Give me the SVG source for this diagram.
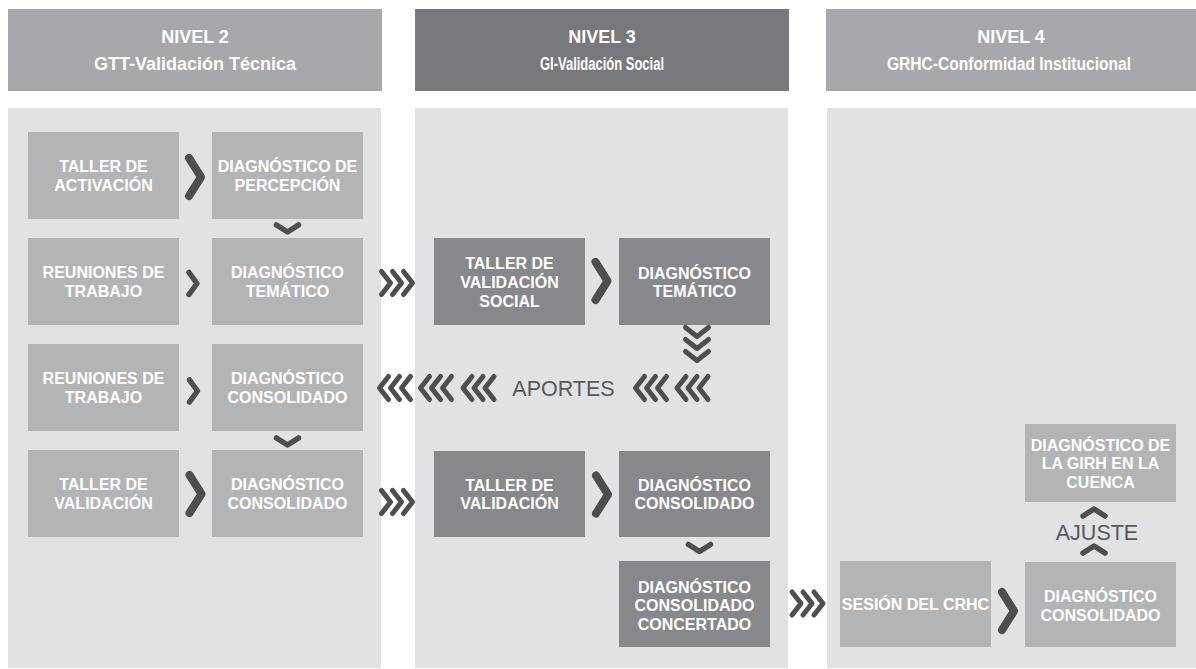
<svg xmlns="http://www.w3.org/2000/svg" xmlns:xlink="http://www.w3.org/1999/xlink" width="1196" height="669" viewBox="0 0 1196 669">
<style>
.hdr{fill:#a7a8ab}
.hdr2{fill:#77787b}
.panel{fill:#e1e2e3}
.bl{fill:#b3b4b6}
.bd{fill:#87888b}
.ht{font-family:"Liberation Sans",Arial,sans-serif;font-weight:bold;font-size:18px;fill:#ffffff;text-anchor:middle}
.bt{font-family:"Liberation Sans",Arial,sans-serif;font-weight:bold;font-size:16px;fill:#ffffff;text-anchor:middle}
.lt{font-family:"Liberation Sans",Arial,sans-serif;font-size:21.5px;fill:#58595b;text-anchor:middle}
.ch{fill:none;stroke:#4d4e50;stroke-linecap:round;stroke-linejoin:round}
</style>
<defs>
<path id="bigR" class="ch" stroke-width="8" d="M-6,-19 L6,0 L-6,19"/>
<path id="smR" class="ch" stroke-width="5.5" d="M-4,-11 L4,0 L-4,11"/>
<path id="dn" class="ch" stroke-width="5.5" d="M-11,-3.5 L0,3.5 L11,-3.5"/>
<path id="up" class="ch" stroke-width="5.5" d="M-11,3.5 L0,-3.5 L11,3.5"/>
<g id="tripR" class="ch" stroke-width="5">
<path d="M-15.5,-11.5 L-6.5,0 L-15.5,11.5"/>
<path d="M-4.5,-11.5 L4.5,0 L-4.5,11.5"/>
<path d="M6.5,-11.5 L15.5,0 L6.5,11.5"/>
</g>
<g id="tripL" class="ch" stroke-width="5">
<path d="M15.5,-11.5 L6.5,0 L15.5,11.5"/>
<path d="M4.5,-11.5 L-4.5,0 L4.5,11.5"/>
<path d="M-6.5,-11.5 L-15.5,0 L-6.5,11.5"/>
</g>
<g id="tripD" class="ch" stroke-width="5">
<path d="M-11.5,-16.5 L0,-7.5 L11.5,-16.5"/>
<path d="M-11.5,-4.5 L0,4.5 L11.5,-4.5"/>
<path d="M-11.5,7.5 L0,16.5 L11.5,7.5"/>
</g>
</defs>

<g id="level2">
<rect class="hdr" x="8" y="9" width="374" height="82"/>
<text class="ht" x="195" y="43">NIVEL 2</text>
<text class="ht" x="195" y="69.5">GTT-Validación Técnica</text>
<rect class="panel" x="8" y="108" width="373" height="560"/>
</g>
<g id="level3">
<rect class="hdr2" x="415" y="9" width="374" height="82"/>
<text class="ht" x="602" y="43">NIVEL 3</text>
<text class="ht" x="602" y="69.5" textLength="124" lengthAdjust="spacingAndGlyphs">GI-Validación Social</text>
<rect class="panel" x="415" y="108" width="373" height="560"/>
</g>
<g id="level4">
<rect class="hdr" x="826" y="9" width="374" height="82"/>
<text class="ht" x="1011" y="43">NIVEL 4</text>
<text class="ht" x="1009" y="69.5" textLength="244" lengthAdjust="spacingAndGlyphs">GRHC-Conformidad Institucional</text>
<rect class="panel" x="827" y="108" width="373" height="560"/>
</g>

<g id="n1"><rect class="bl" x="28" y="132" width="151" height="87"/>
<text class="bt" x="103.5" y="172">TALLER DE</text><text class="bt" x="103.5" y="190.5">ACTIVACIÓN</text></g>
<g id="n2"><rect class="bl" x="212" y="132" width="151" height="87"/>
<text class="bt" x="287.5" y="172">DIAGNÓSTICO DE</text><text class="bt" x="287.5" y="190.5">PERCEPCIÓN</text></g>
<g id="n3"><rect class="bl" x="28" y="238" width="151" height="87"/>
<text class="bt" x="103.5" y="278">REUNIONES DE</text><text class="bt" x="103.5" y="296.5">TRABAJO</text></g>
<g id="n4"><rect class="bl" x="212" y="238" width="151" height="87"/>
<text class="bt" x="287.5" y="278">DIAGNÓSTICO</text><text class="bt" x="287.5" y="296.5">TEMÁTICO</text></g>
<g id="n5"><rect class="bl" x="28" y="344" width="151" height="87"/>
<text class="bt" x="103.5" y="384">REUNIONES DE</text><text class="bt" x="103.5" y="402.5">TRABAJO</text></g>
<g id="n6"><rect class="bl" x="212" y="344" width="151" height="87"/>
<text class="bt" x="287.5" y="384">DIAGNÓSTICO</text><text class="bt" x="287.5" y="402.5">CONSOLIDADO</text></g>
<g id="n7"><rect class="bl" x="28" y="450" width="151" height="87"/>
<text class="bt" x="103.5" y="490">TALLER DE</text><text class="bt" x="103.5" y="508.5">VALIDACIÓN</text></g>
<g id="n8"><rect class="bl" x="212" y="450" width="151" height="87"/>
<text class="bt" x="287.5" y="490">DIAGNÓSTICO</text><text class="bt" x="287.5" y="508.5">CONSOLIDADO</text></g>

<g id="n9"><rect class="bd" x="434" y="238" width="151" height="87"/>
<text class="bt" x="509.5" y="268.5">TALLER DE</text><text class="bt" x="509.5" y="287.5">VALIDACIÓN</text><text class="bt" x="509.5" y="306.5">SOCIAL</text></g>
<g id="n10"><rect class="bd" x="619" y="238" width="151" height="87"/>
<text class="bt" x="694.5" y="278.5">DIAGNÓSTICO</text><text class="bt" x="694.5" y="297">TEMÁTICO</text></g>
<g id="n11"><rect class="bd" x="434" y="451" width="151" height="86"/>
<text class="bt" x="509.5" y="490.5">TALLER DE</text><text class="bt" x="509.5" y="509">VALIDACIÓN</text></g>
<g id="n12"><rect class="bd" x="619" y="451" width="151" height="86"/>
<text class="bt" x="694.5" y="490.5">DIAGNÓSTICO</text><text class="bt" x="694.5" y="509">CONSOLIDADO</text></g>
<g id="n13"><rect class="bd" x="619" y="561" width="151" height="86"/>
<text class="bt" x="694.5" y="592.5">DIAGNÓSTICO</text><text class="bt" x="694.5" y="611">CONSOLIDADO</text><text class="bt" x="694.5" y="629.5">CONCERTADO</text></g>

<g id="n14"><rect class="bl" x="840" y="561" width="151" height="86"/>
<text class="bt" x="915.5" y="610">SESIÓN DEL CRHC</text></g>
<g id="n15"><rect class="bl" x="1025" y="562" width="151" height="85"/>
<text class="bt" x="1100.5" y="601.5">DIAGNÓSTICO</text><text class="bt" x="1100.5" y="620.5">CONSOLIDADO</text></g>
<g id="n16"><rect class="bl" x="1025" y="424" width="151" height="78"/>
<text class="bt" x="1100.5" y="450.5">DIAGNÓSTICO DE</text><text class="bt" x="1100.5" y="469">LA GIRH EN LA</text><text class="bt" x="1100.5" y="487.5">CUENCA</text></g>

<g id="connectors">
<use xlink:href="#bigR" x="195" y="177"/>
<use xlink:href="#smR" x="193" y="283.5"/>
<use xlink:href="#smR" x="193.5" y="391"/>
<use xlink:href="#bigR" x="195.5" y="494"/>
<use xlink:href="#dn" x="287.5" y="228.5"/>
<use xlink:href="#dn" x="287.5" y="441.5"/>
<use xlink:href="#tripR" x="397" y="283"/>
<use xlink:href="#tripR" x="397" y="502"/>
<use xlink:href="#bigR" x="601.5" y="281"/>
<use xlink:href="#bigR" x="602" y="494.5"/>
<use xlink:href="#tripD" x="697" y="344"/>
<use xlink:href="#dn" x="699.5" y="548"/>
<use xlink:href="#tripL" x="395" y="388"/>
<use xlink:href="#tripL" x="436" y="388"/>
<use xlink:href="#tripL" x="478.5" y="388"/>
<use xlink:href="#tripL" x="651" y="388"/>
<use xlink:href="#tripL" x="692.5" y="388"/>
<text class="lt" x="563.5" y="396">APORTES</text>
<use xlink:href="#tripR" x="807.5" y="603.5"/>
<use xlink:href="#bigR" x="1008" y="611"/>
<use xlink:href="#up" x="1094" y="512.5"/>
<use xlink:href="#up" x="1094" y="549.5"/>
<text class="lt" x="1097" y="540">AJUSTE</text>
</g>
</svg>
